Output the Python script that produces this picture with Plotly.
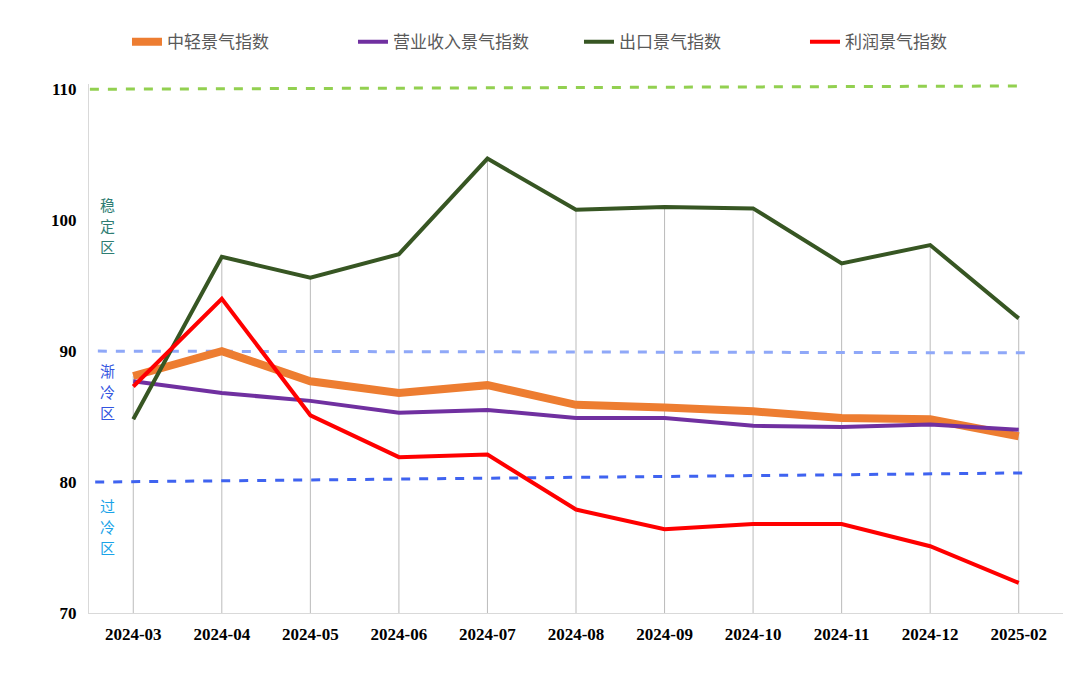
import plotly.graph_objects as go

months = ["2024-03", "2024-04", "2024-05", "2024-06", "2024-07", "2024-08",
          "2024-09", "2024-10", "2024-11", "2024-12", "2025-02"]

light_index = [88.1, 90.0, 87.7, 86.8, 87.4, 85.9, 85.7, 85.4, 84.9, 84.8, 83.5]
revenue_index = [87.7, 86.8, 86.2, 85.3, 85.5, 84.9, 84.9, 84.3, 84.2, 84.4, 84.0]
export_index = [84.8, 97.2, 95.6, 97.4, 104.7, 100.8, 101.0, 100.9, 96.7, 98.1, 92.5]
profit_index = [87.3, 94.0, 85.1, 81.9, 82.1, 77.9, 76.4, 76.8, 76.8, 75.1, 72.3]

# zone boundary lines (start / end level, as drawn)
stable_line = [110.0, 110.25]
stable_x = [-0.49, 10.07]
cooling_line = [90.0, 89.87]
cooling_x = [-0.4, 10.16]
cold_line = [80.0, 80.7]
cold_x = [-0.43, 10.1]

zone_labels = ["稳定区", "渐冷区", "过冷区"]
zone_levels = [99.6, 86.9, 76.6]
zone_colors = ["#2E7D73", "#3355E0", "#1AA3E8"]

y_min, y_max = 70, 110
xs = list(range(len(months)))

fig = go.Figure()

# drop lines from the highest series down to the axis
drop_x, drop_y = [], []
for i in xs:
    top = max(light_index[i], revenue_index[i], export_index[i], profit_index[i])
    drop_x += [i, i, None]
    drop_y += [y_min, top, None]
fig.add_trace(go.Scatter(x=drop_x, y=drop_y, mode="lines", showlegend=False,
                         line=dict(color="rgba(150,150,150,0.65)", width=1),
                         hoverinfo="skip"))

for lx, ly, col in [(stable_x, stable_line, "#92D050"),
                    (cooling_x, cooling_line, "#8FA8F8"),
                    (cold_x, cold_line, "#3F63F0")]:
    fig.add_trace(go.Scatter(x=lx, y=ly, mode="lines", showlegend=False,
                             line=dict(color=col, width=3, dash="dash"),
                             hoverinfo="skip"))

fig.add_trace(go.Scatter(x=xs, y=light_index, name="中轻景气指数", mode="lines",
                         line=dict(color="#ED7D31", width=8)))
fig.add_trace(go.Scatter(x=xs, y=revenue_index, name="营业收入景气指数", mode="lines",
                         line=dict(color="#7030A0", width=4)))
fig.add_trace(go.Scatter(x=xs, y=export_index, name="出口景气指数", mode="lines",
                         line=dict(color="#375623", width=4)))
fig.add_trace(go.Scatter(x=xs, y=profit_index, name="利润景气指数", mode="lines",
                         line=dict(color="#FF0000", width=4)))

# vertical zone labels, one character per line
for txt, lvl, col in zip(zone_labels, zone_levels, zone_colors):
    for k, ch in enumerate(txt):
        fig.add_annotation(x=-0.29, y=lvl, xref="x", yref="y", text=ch, showarrow=False,
                           yshift=(1 - k) * 21, borderpad=0,
                           font=dict(family="Noto Sans CJK SC", size=15, color=col))

fig.update_layout(
    width=1080, height=690,
    margin=dict(l=81, r=25, t=76, b=85, autoexpand=False),
    paper_bgcolor="white", plot_bgcolor="white",
    font=dict(family="Noto Sans CJK SC", color="#595959"),
    legend=dict(orientation="h", x=0.039, y=1.079, xanchor="left", yanchor="middle",
                font=dict(family="Noto Sans CJK SC", size=17, color="#595959"),
                itemwidth=30, entrywidth=181, entrywidthmode="pixels"),
    showlegend=True,
)
fig.update_xaxes(range=[-0.5, 10.5], tickvals=xs, ticktext=months, showgrid=False,
                 zeroline=False, showline=True, linecolor="#D9D9D9", linewidth=1,
                 ticks="", ticklabelstandoff=6,
                 tickfont=dict(family="Liberation Serif", size=17, color="black", weight="bold"))
fig.update_yaxes(range=[y_min, y_max + 0.4], tickvals=[70, 80, 90, 100, 110], showgrid=False,
                 zeroline=False, showline=True, linecolor="#D9D9D9", linewidth=1,
                 ticks="", ticklabelstandoff=8,
                 tickfont=dict(family="Liberation Serif", size=17, color="black", weight="bold"))

fig.write_html("out.html")
